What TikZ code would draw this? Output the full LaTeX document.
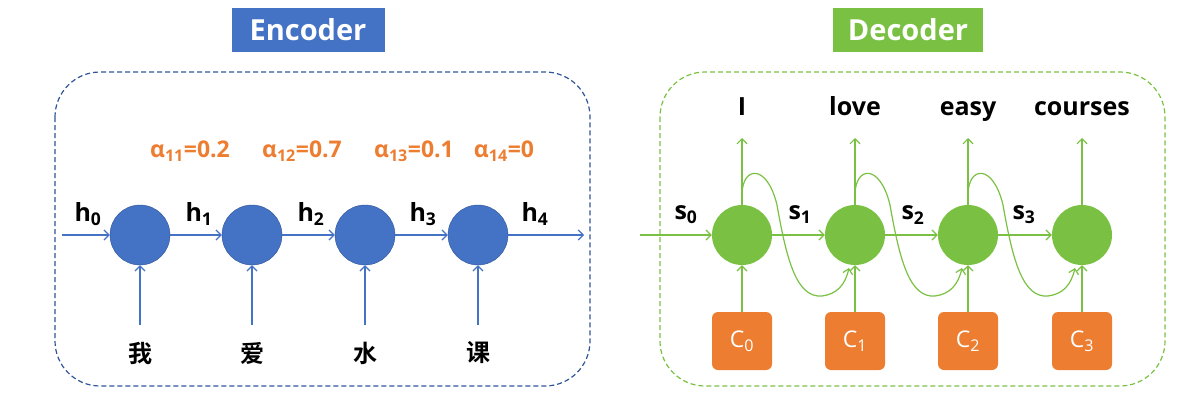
\documentclass[tikz,border=0pt]{standalone}
\usepackage{fontspec}
\setmainfont{Open Sans}
\newfontfamily\cjk{Noto Sans CJK SC Bold}
\usetikzlibrary{arrows.meta}
\definecolor{eb}{HTML}{4472C4}
\definecolor{ebd}{HTML}{2F5597}
\definecolor{dg}{HTML}{7AC143}
\definecolor{og}{HTML}{ED7D31}
\begin{document}
\begin{tikzpicture}[x=1pt,y=-1pt,
 enc/.style={circle,fill=eb,draw=ebd,line width=0.4pt,minimum size=60pt,inner sep=0},
 dec/.style={circle,fill=dg,minimum size=60pt,inner sep=0},
 cbox/.style={fill=og,rounded corners=6pt,minimum width=60pt,minimum height=58pt,text=white,font=\fontsize{23}{23}\selectfont},
 ea/.style={eb,line width=1.2pt,-{Straight Barb[length=5pt,width=10pt]}},
 da/.style={dg,line width=1.2pt,-{Straight Barb[length=5pt,width=10pt]}},
 lab/.style={font=\bfseries\fontsize{25}{25}\selectfont},
 al/.style={font=\bfseries\fontsize{23}{23}\selectfont,text=og},
 ttl/.style={text=white,font=\bfseries\fontsize{29}{29}\selectfont,minimum height=44pt}]
\useasboundingbox (0,0) rectangle (1183,405);
\draw[ebd,dashed,line width=1.2pt,dash pattern=on 5pt off 3pt,rounded corners=45pt] (55,72) rectangle (590,386);
\draw[dg,dashed,line width=1.2pt,dash pattern=on 5pt off 3pt,rounded corners=45pt] (660,72) rectangle (1165,386);
\node[ttl,fill=eb,minimum width=153pt] (et) at (308,30) {Encoder};
\node[ttl,fill=dg,minimum width=150pt] (dt) at (908,30) {Decoder};
% encoder
\foreach \i/\x/\w in {1/140/我,2/252/爱,3/365/水,4/478/课}{
  \node[enc] (e\i) at (\x,235) {};
  \node[font=\cjk\fontsize{24}{24}\selectfont] (w\i) at (\x,353) {\w};
  \draw[ea] (\x,325) coordinate (wt\i) -- (e\i.south);
}
\coordinate (h0s) at (62,235);
\coordinate (h4e) at (584,235);
\draw[ea] (h0s) -- (e1.west);
\draw[ea] (e1.east) -- (e2.west);
\draw[ea] (e2.east) -- (e3.west);
\draw[ea] (e3.east) -- (e4.west);
\draw[ea] (e4.east) -- (h4e);
\node[lab] (lh0) at (88,214) {h\textsubscript{0}};
\node[lab] (lh1) at (199,214) {h\textsubscript{1}};
\node[lab] (lh2) at (311,214) {h\textsubscript{2}};
\node[lab] (lh3) at (423,214) {h\textsubscript{3}};
\node[lab] (lh4) at (535,214) {h\textsubscript{4}};
\node[al] (a1) at (190,151) {α\textsubscript{11}=0.2};
\node[al] (a2) at (302,151) {α\textsubscript{12}=0.7};
\node[al] (a3) at (414,151) {α\textsubscript{13}=0.1};
\node[al] (a4) at (504,151) {α\textsubscript{14}=0};
% decoder
\foreach \i/\x/\w/\c in {1/742/I/0,2/855/love/1,3/968/easy/2,4/1082/courses/3}{
  \node[dec] (d\i) at (\x,235) {};
  \node[cbox] (c\i) at (\x,341) {C\textsubscript{\c}};
  \node[lab] (o\i) at (\x,110) {\strut\w};
  \draw[da] (c\i.north) -- (d\i.south);
  \draw[da] (d\i.north) -- (\x,138) coordinate (ot\i);
}
\coordinate (s0s) at (640,235);
\draw[da] (s0s) -- (d1.west);
\draw[da] (d1.east) -- (d2.west);
\draw[da] (d2.east) -- (d3.west);
\draw[da] (d3.east) -- (d4.west);
\node[lab] (ls0) at (686,215) {s\textsubscript{0}};
\node[lab] (ls1) at (800,215) {s\textsubscript{1}};
\node[lab] (ls2) at (913,215) {s\textsubscript{2}};
\node[lab] (ls3) at (1024,215) {s\textsubscript{3}};
\foreach \x in {742,855,968}{
  \draw[dg,line width=1.2pt,-{Straight Barb[length=5pt,width=10pt]}]
   (\x,195) .. controls (\x,166) and (\x+25,163) .. (\x+35,205)
   .. controls (\x+45,262) and (\x+55,298) .. (\x+80,296)
   .. controls (\x+95,294) and (\x+103,285) .. (\x+107,268);
}
\end{tikzpicture}
\end{document}
